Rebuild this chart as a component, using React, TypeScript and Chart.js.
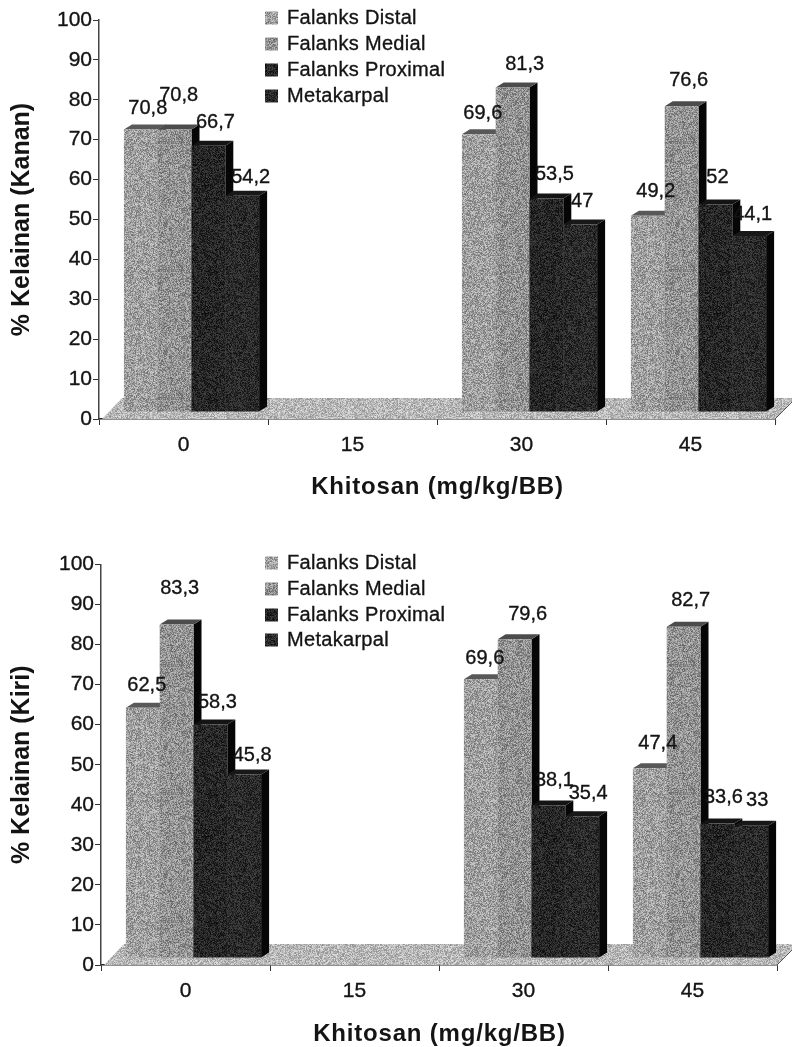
import React, { useEffect, useRef } from "react";
import { Chart, registerables } from "chart.js";

Chart.register(...registerables);

const doses = ["0", "15", "30", "45"];
const seriesNames = ["Falanks Distal", "Falanks Medial", "Falanks Proximal", "Metakarpal"];

const kananDistal = [70.8, null, 69.6, 49.2];
const kananMedial = [70.8, null, 81.3, 76.6];
const kananProximal = [66.7, null, 53.5, 52];
const kananMetakarpal = [54.2, null, 47, 44.1];

const kiriDistal = [62.5, null, 69.6, 47.4];
const kiriMedial = [83.3, null, 79.6, 82.7];
const kiriProximal = [58.3, null, 38.1, 33.6];
const kiriMetakarpal = [45.8, null, 35.4, 33];

// Hand placement of the value labels: [dx, dy] from the centre top of each bar.
const kananNudges = [
  [[7, -21], null, [4, -21], [8, -24]],
  [[4, -34], null, [12, -23], [7, -26]],
  [[7, -23], null, [8, -24], [2, -27]],
  [[8.5, -18], null, [2, -23], [3.5, -22]],
];
const kiriNudges = [
  [[4, -22], null, [4, -21], [8, -25]],
  [[3, -36], null, [13, -25], [7, -26]],
  [[7, -22], null, [6, -25], [6, -26]],
  [[8, -19], null, [6, -23], [6, -25]],
];

const FONT = '"Liberation Sans", Arial, sans-serif';
const INK = "#141414";
const faceShades = [
  { base: 160, amp: 46 },
  { base: 146, amp: 46 },
  { base: 38, amp: 28 },
  { base: 42, amp: 28 },
];
const topShades = ["#585858", "#4c4c4c", "#141414", "#181818"];

// Speckled fill that imitates a halftone print; the hash keeps it stable between renders.
function grain(base: number, amp: number, seed: number) {
  const size = 128;
  const raw = document.createElement("canvas");
  raw.width = size;
  raw.height = size;
  const r = raw.getContext("2d")!;
  const img = r.createImageData(size, size);
  for (let row = 0; row < size; row++) {
    for (let col = 0; col < size; col++) {
      const h = Math.sin((col * 31.17 + row * 57.31 + seed * 13.7) * 12.9898) * 43758.5453;
      const v = base + (h - Math.floor(h) - 0.5) * 2 * amp;
      const p = (row * size + col) * 4;
      img.data[p] = img.data[p + 1] = img.data[p + 2] = v;
      img.data[p + 3] = 255;
    }
  }
  r.putImageData(img, 0, 0);
  const soft = document.createElement("canvas");
  soft.width = size;
  soft.height = size;
  const g = soft.getContext("2d")!;
  g.filter = "blur(0.45px)";
  g.drawImage(raw, 0, 0);
  return g.createPattern(soft, "repeat")!;
}

function heavyText(ctx: CanvasRenderingContext2D, text: string, x: number, y: number) {
  ctx.fillText(text, x, y);
  ctx.strokeText(text, x, y);
}

type PanelProps = {
  top: number;
  height: number;
  yTitle: string;
  series: (number | null)[][];
  nudges: (number[] | null)[][];
  area: { left: number; right: number; top: number; bottom: number };
  titleCenter: number;
  titleY: number;
  legendRows: number[];
};

function Panel(props: PanelProps) {
  const ref = useRef<HTMLCanvasElement>(null);
  useEffect(() => {
    const { series, nudges, area, titleCenter, titleY, legendRows, yTitle, height } = props;
    const fills = faceShades.map((s, i) => grain(s.base, s.amp, i + 1));
    const floorFill = grain(184, 40, 7);
    const shiftX = 8;
    const shiftY = -7;
    const depthX = 8;
    const depthY = -5;

    const scene = {
      id: "scene",
      beforeDatasetsDraw(chart: any) {
        const ctx = chart.ctx;
        const x = chart.scales.x;
        const zero = chart.scales.y.getPixelForValue(0);
        // Floor of the box
        ctx.save();
        ctx.fillStyle = floorFill;
        ctx.beginPath();
        ctx.moveTo(x.left + 3, zero);
        ctx.lineTo(x.left + 23, zero - 21);
        ctx.lineTo(x.right + 20, zero - 21);
        ctx.lineTo(x.right, zero);
        ctx.closePath();
        ctx.fill();
        ctx.strokeStyle = "#555";
        ctx.lineWidth = 1;
        ctx.beginPath();
        ctx.moveTo(x.right, zero);
        ctx.lineTo(x.right + 18, zero - 18);
        ctx.stroke();
        // Bars go left to right, so each one overlaps the side of its neighbour
        ctx.translate(shiftX, shiftY);
        series.forEach((_, di) => {
          const meta = chart.getDatasetMeta(di);
          meta.data.forEach((bar: any, i: number) => {
            if (series[di][i] == null) return;
            const { x: cx, y: ty, base, width } = bar.getProps(["x", "y", "base", "width"], true);
            const r = cx + width / 2;
            const l = cx - width / 2;
            ctx.fillStyle = "#060606";
            ctx.beginPath();
            ctx.moveTo(r, ty);
            ctx.lineTo(r + depthX, ty + depthY);
            ctx.lineTo(r + depthX, base + depthY);
            ctx.lineTo(r, base);
            ctx.closePath();
            ctx.fill();
            ctx.fillStyle = topShades[di];
            ctx.beginPath();
            ctx.moveTo(l, ty);
            ctx.lineTo(l + depthX, ty + depthY);
            ctx.lineTo(r + depthX, ty + depthY);
            ctx.lineTo(r, ty);
            ctx.closePath();
            ctx.fill();
            bar.draw(ctx);
          });
        });
        ctx.restore();
        return false;
      },
      afterDraw(chart: any) {
        const ctx = chart.ctx;
        ctx.save();
        ctx.fillStyle = INK;
        ctx.strokeStyle = INK;
        ctx.lineWidth = 0.35;
        ctx.textBaseline = "middle";
        // Value labels, decimal comma as printed
        ctx.font = `20px ${FONT}`;
        ctx.textAlign = "center";
        series.forEach((values, di) => {
          const meta = chart.getDatasetMeta(di);
          values.forEach((v, i) => {
            const nudge = nudges[di][i];
            if (v == null || !nudge) return;
            const { x: cx, y: ty } = meta.data[i].getProps(["x", "y"], true);
            heavyText(ctx, String(v).replace(".", ","), cx + shiftX + nudge[0], ty + shiftY + nudge[1]);
          });
        });
        // Legend block inside the plot
        ctx.textAlign = "left";
        (ctx as any).letterSpacing = "0.3px";
        seriesNames.forEach((name, i) => {
          const y = legendRows[i];
          ctx.fillStyle = fills[i];
          ctx.fillRect(265, y - 6.5, 13, 13);
          ctx.fillStyle = INK;
          heavyText(ctx, name, 287, y);
        });
        // Horizontal axis title
        ctx.font = `bold 24px ${FONT}`;
        ctx.textAlign = "center";
        (ctx as any).letterSpacing = "0.8px";
        ctx.fillText("Khitosan (mg/kg/BB)", titleCenter, titleY);
        ctx.restore();
      },
    };

    const chart = new Chart(ref.current!, {
      type: "bar",
      data: {
        labels: doses,
        datasets: series.map((data, i) => ({
          label: seriesNames[i],
          data,
          backgroundColor: fills[i],
          borderWidth: 0,
          categoryPercentage: 0.8,
          barPercentage: 1,
        })),
      },
      options: {
        responsive: false,
        animation: false,
        layout: {
          padding: { left: 0, top: area.top, right: 792 - area.right, bottom: 0 },
        },
        plugins: { legend: { display: false }, tooltip: { enabled: false } },
        scales: {
          x: {
            offset: true,
            grid: {
              offset: true,
              drawOnChartArea: false,
              drawTicks: true,
              tickLength: 6,
              color: "#333",
            },
            border: { color: "#222", width: 1.5 },
            ticks: {
              color: INK,
              font: { family: FONT, size: 21 },
              textStrokeColor: INK,
              textStrokeWidth: 0.35,
              padding: 8,
              maxRotation: 0,
            },
            afterFit: (s: any) => {
              s.height = height - area.bottom;
            },
          },
          y: {
            min: 0,
            max: 100,
            grid: { drawOnChartArea: false, tickLength: 6, color: "#333" },
            border: { color: "#444", width: 1.5 },
            ticks: {
              stepSize: 10,
              color: INK,
              font: { family: FONT, size: 21 },
              textStrokeColor: INK,
              textStrokeWidth: 0.35,
              padding: 1,
            },
            title: {
              display: true,
              text: yTitle,
              color: INK,
              font: { family: FONT, size: 25, weight: "bold" },
              padding: { top: 7, bottom: 0 },
            },
            afterFit: (s: any) => {
              s.width = area.left;
            },
          },
        },
      },
      plugins: [scene],
    } as any);
    return () => chart.destroy();
  }, []);
  return (
    <canvas
      ref={ref}
      width={792}
      height={props.height}
      style={{ position: "absolute", left: 0, top: props.top, display: "block" }}
    />
  );
}

export default function App() {
  return (
    <div style={{ position: "absolute", left: 0, top: 0, width: 792, height: 1047, background: "#fff" }}>
      <Panel
        top={0}
        height={523}
        yTitle="% Kelainan (Kanan)"
        series={[kananDistal, kananMedial, kananProximal, kananMetakarpal]}
        nudges={kananNudges}
        area={{ left: 99, right: 775, top: 20, bottom: 419 }}
        titleCenter={437.5}
        titleY={487}
        legendRows={[18, 44, 70, 96]}
      />
      <Panel
        top={523}
        height={524}
        yTitle="% Kelainan (Kiri)"
        series={[kiriDistal, kiriMedial, kiriProximal, kiriMetakarpal]}
        nudges={kiriNudges}
        area={{ left: 101, right: 777, top: 41.5, bottom: 442 }}
        titleCenter={439.5}
        titleY={511}
        legendRows={[40, 66, 92, 117]}
      />
    </div>
  );
}
